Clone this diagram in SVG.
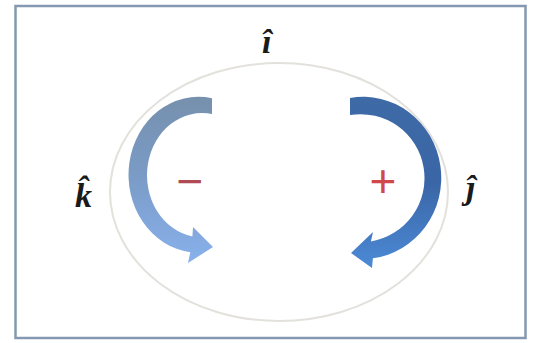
<svg xmlns="http://www.w3.org/2000/svg" width="534" height="343" viewBox="0 0 534 343">
<style>
.lbl{font-family:"Liberation Serif","DejaVu Serif",serif;font-style:italic;font-weight:bold;font-size:34px;fill:#1a1a1a}
.sign{font-family:"Liberation Sans","DejaVu Sans",sans-serif;font-size:46px;text-anchor:middle}
</style>
<defs>
<linearGradient id="gl" x1="0" y1="0" x2="0" y2="1">
<stop offset="0" stop-color="#7690ad"/>
<stop offset="0.5" stop-color="#7b9cc8"/>
<stop offset="1" stop-color="#88b1ec"/>
</linearGradient>
<linearGradient id="gr" x1="0" y1="0" x2="0" y2="1">
<stop offset="0" stop-color="#3e6aa6"/>
<stop offset="0.5" stop-color="#3a66a6"/>
<stop offset="1" stop-color="#4c8ad6"/>
</linearGradient>
</defs>
<rect width="534" height="343" fill="#ffffff"/>
<g id="frame">
<rect x="15.5" y="6" width="510" height="332" fill="none" stroke="#8598b2" stroke-width="2.5"/>
</g>
<g id="cycle">
<ellipse cx="279" cy="192" rx="169" ry="129" fill="none" stroke="#e3e1dc" stroke-width="2"/>
</g>
<g id="connectors">
<path id="arrow-minus" d="M212,98.2 A70,78 0 1,0 190.3,252.2 L188,263 L213,247 L193,227 L192.4,236.4 A55,62 0 1,1 212,114 Z" fill="url(#gl)"/>
<path id="arrow-plus" d="M350,98 A78,81 0 1,1 372.9,258.2 L372,268 L351,253 L373,232 L370.9,241.4 A64,64 0 1,0 350,115 Z" fill="url(#gr)"/>
</g>
<g id="label-i"><text class="lbl" x="262" y="53">î</text></g>
<g id="label-k"><text class="lbl" x="75" y="207">k̂</text></g>
<g id="label-j"><text class="lbl" x="466" y="199">ĵ</text></g>
<g id="sign-minus"><text class="sign" x="190" y="197" fill="#b04a55">−</text></g>
<g id="sign-plus"><text class="sign" x="383" y="197" fill="#d0484a">+</text></g>
</svg>
